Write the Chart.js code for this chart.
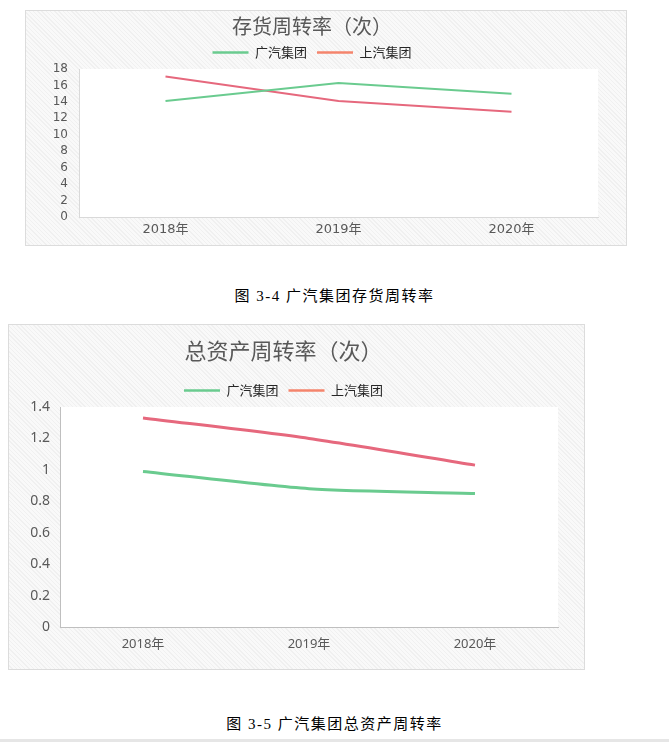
<!DOCTYPE html>
<html>
<head>
<meta charset="utf-8">
<script src="https://cdn.jsdelivr.net/npm/chart.js@4/dist/chart.umd.min.js"></script>
<style>
  html,body{margin:0;padding:0;background:#fff;width:669px;height:742px;overflow:hidden;}
  .box{position:absolute;box-sizing:border-box;border:1px solid #dcdcdc;
       background:repeating-linear-gradient(45deg,#f9f9f9 0px,#f9f9f9 2px,#f0f0f0 2px,#f0f0f0 3px);}
  .box canvas{position:absolute;left:0;top:0;}
  .cap{position:absolute;left:0;width:669px;text-align:center;font-family:"Liberation Serif","Noto Sans CJK SC",serif;font-size:15px;font-weight:normal;letter-spacing:1.5px;color:#000;line-height:18px;}
  .bottomline{position:absolute;left:0;top:739px;width:669px;height:3px;background:#e6e6e6;}
</style>
</head>
<body>
<div class="box" id="box1" style="left:25px;top:10px;width:602px;height:236px;"><canvas id="c1"></canvas></div>
<div class="cap" style="top:287px;">图 3-4 广汽集团存货周转率</div>
<div class="box" id="box2" style="left:8px;top:324px;width:577px;height:346px;"><canvas id="c2"></canvas></div>
<div class="cap" style="top:715px;">图 3-5 广汽集团总资产周转率</div>
<div class="bottomline"></div>
<script>
// ---- data ----
const categories = ['2018年', '2019年', '2020年'];
const seriesNames = ['广汽集团', '上汽集团'];
const inventoryGAC = [14.1, 16.3, 15.0];
const inventorySAIC = [17.1, 14.1, 12.8];
const assetGAC = [0.99, 0.88, 0.85];
const assetSAIC = [1.33, 1.20, 1.03];
const title1 = '存货周转率（次）';
const title2 = '总资产周转率（次）';

// ---- styles ----
const lineColors = ['#6acb8f', '#e6687d'];
const legendColors = ['#6acb8f', '#f4846c'];

const plotBg = {
  id: 'plotBg',
  beforeDraw(chart) {
    const {ctx, chartArea: a} = chart;
    ctx.save();
    ctx.fillStyle = '#ffffff';
    ctx.fillRect(a.left, a.top, a.right - a.left, a.bottom - a.top);
    ctx.restore();
  }
};

function makeChart(id, W, H, cfg) {
  const cv = document.getElementById(id);
  cv.style.width = W + 'px';
  cv.style.height = H + 'px';
  cv.width = W; cv.height = H;
  return new Chart(cv, {
    type: 'line',
    data: {
      labels: categories,
      datasets: cfg.series.map((d, i) => ({
        label: seriesNames[i],
        data: d,
        borderColor: lineColors[i],
        backgroundColor: lineColors[i],
        borderWidth: cfg.lineWidth,
        pointRadius: 0,
        tension: cfg.tension,
        fill: false
      }))
    },
    options: {
      responsive: false,
      animation: false,
      devicePixelRatio: 1,
      layout: {padding: {left: 0, right: cfg.padRight, top: 0, bottom: 0}},
      plugins: {
        tooltip: {enabled: false},
        title: {
          display: true,
          text: cfg.title,
          color: '#595959',
          font: {family: '"Noto Sans CJK SC", "Noto Sans", sans-serif', size: cfg.titleSize, weight: 'normal', lineHeight: 1},
          padding: {top: cfg.titlePadTop, bottom: cfg.titlePadBottom}
        },
        legend: {
          display: true,
          position: 'top',
          labels: {
            usePointStyle: true,
            pointStyle: 'line',
            pointStyleWidth: 36,
            padding: 10,
            color: '#262626',
            font: {family: '"Noto Sans CJK SC", sans-serif', size: 13},
            generateLabels(chart) {
              return chart.data.datasets.map((ds, i) => ({
                text: ds.label,
                strokeStyle: legendColors[i],
                fillStyle: legendColors[i],
                lineWidth: 2.5,
                pointStyle: 'line',
                fontColor: '#262626',
                hidden: false,
                datasetIndex: i
              }));
            }
          }
        }
      },
      scales: {
        x: {
          offset: true,
          grid: {display: false, drawTicks: false},
          border: {display: true, color: cfg.axisColor, width: 1},
          ticks: {color: '#595959', padding: cfg.xPad, font: {family: cfg.tickFamily, size: cfg.xTickSize}},
          afterFit(s) { s.height = cfg.xHeight; }
        },
        y: {
          min: 0,
          max: cfg.yMax,
          grid: {display: false, drawTicks: false},
          border: {display: true, color: cfg.axisColor, width: 1},
          ticks: {
            stepSize: cfg.yStep,
            autoSkip: false,
            color: '#595959',
            padding: cfg.yPad,
            font: {family: cfg.tickFamily, size: cfg.yTickSize},
            callback: v => String(+(+v).toFixed(2))
          },
          afterFit(s) { s.width = cfg.yWidth; }
        }
      }
    },
    plugins: [plotBg]
  });
}

// chart 1: canvas 600x234, chart area 53..572 x 58..206
makeChart('c1', 600, 234, {
  series: [inventoryGAC, inventorySAIC],
  title: title1,
  titleSize: 20, titlePadTop: 5, titlePadBottom: 0,
  lineWidth: 2, tension: 0,
  padRight: 28,
  yWidth: 53, xHeight: 28,
  yMax: 18, yStep: 2,
  yPad: 11, xPad: 5,
  tickFamily: '"DejaVu Sans", "Noto Sans CJK SC", sans-serif',
  yTickSize: 12, xTickSize: 13,
  axisColor: '#d9d9d9'
});

// chart 2: canvas 575x344, chart area 51..549 x 84..302
makeChart('c2', 575, 344, {
  series: [assetGAC, assetSAIC],
  title: title2,
  titleSize: 22, titlePadTop: 15, titlePadBottom: 12,
  lineWidth: 3, tension: 0.25,
  padRight: 26,
  yWidth: 51, xHeight: 42,
  yMax: 1.4, yStep: 0.2,
  yPad: 10, xPad: 9,
  tickFamily: '"Noto Sans", "Noto Sans CJK SC", sans-serif',
  yTickSize: 14, xTickSize: 13,
  axisColor: '#bfbfbf'
});
</script>
</body>
</html>
